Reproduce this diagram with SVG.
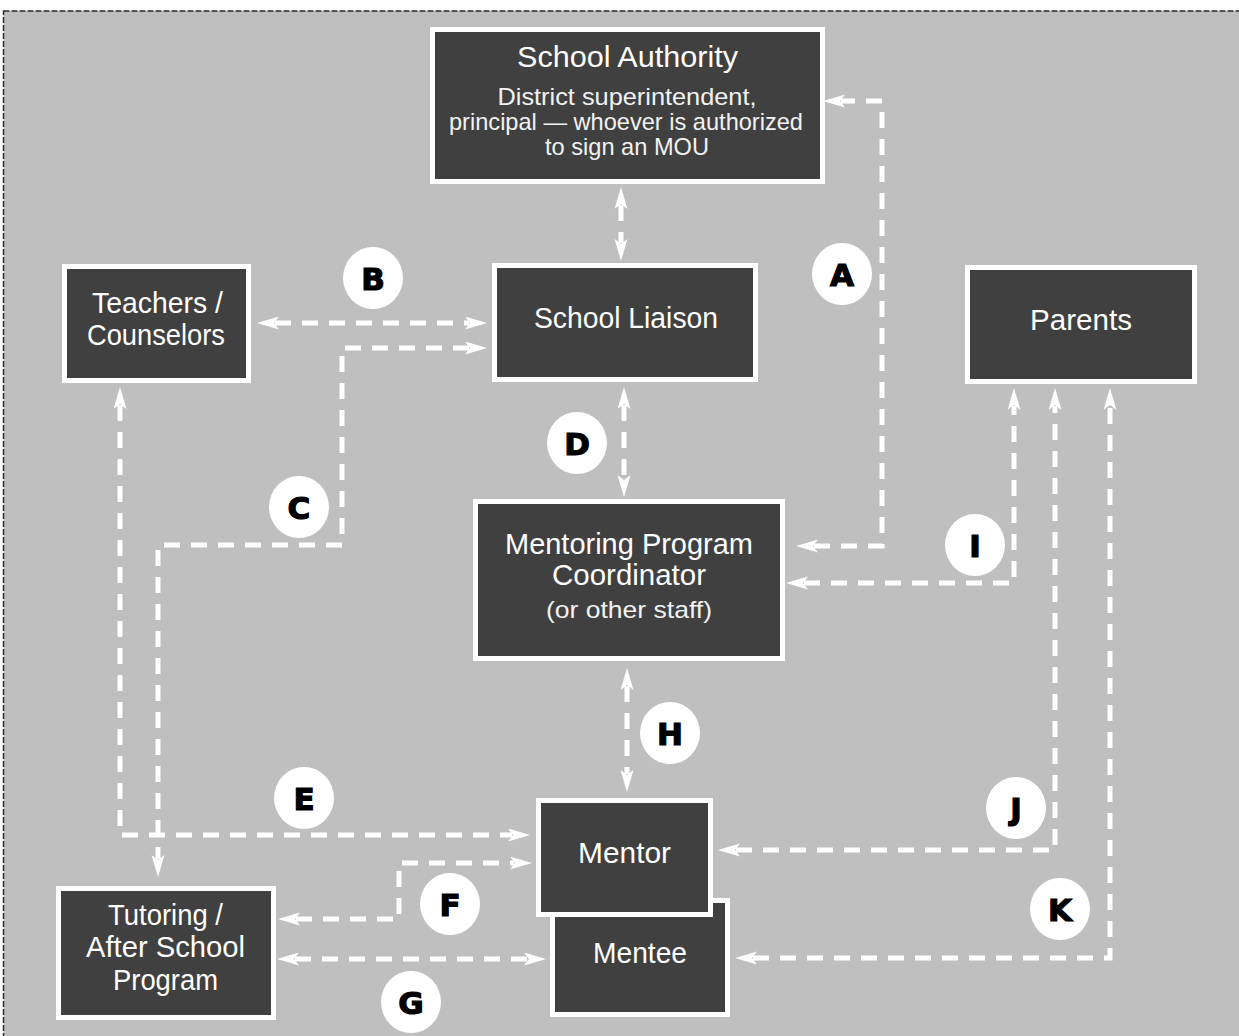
<svg xmlns="http://www.w3.org/2000/svg" width="1239" height="1036" viewBox="0 0 1239 1036">
<defs>
<style>
.bg{fill:#bfbfbf;stroke:#2a2a2a;stroke-width:1.5;stroke-dasharray:6 2}
.box{fill:#404040;stroke:#ffffff;stroke-width:5}
.t{font-family:"Liberation Sans",Arial,sans-serif;font-size:30px;fill:#ffffff;text-anchor:middle}
.s{font-family:"Liberation Sans",Arial,sans-serif;font-size:24px;fill:#f2f2f2;text-anchor:middle}
.c{fill:none;stroke:#ffffff;stroke-width:5;stroke-dasharray:16 11;stroke-linejoin:miter}
.lc{fill:#ffffff}
.lt{font-family:"DejaVu Sans",sans-serif;font-weight:bold;font-size:31px;fill:#000000;stroke:#000000;stroke-width:1.2;text-anchor:middle}
</style>
<marker id="ah" markerUnits="userSpaceOnUse" markerWidth="26" markerHeight="16" viewBox="0 0 26 16" refX="4" refY="6.5" orient="auto-start-reverse">
<path d="M0,0 L22,6.5 L0,13 L5,6.5 Z" fill="#ffffff"/>
</marker>
</defs>
<rect x="0" y="0" width="1239" height="1036" fill="#ffffff"/>
<rect class="bg" x="3.5" y="11" width="1250" height="1040"/>

<g id="connectors">
<path class="c" d="M621 205 V243" marker-start="url(#ah)" marker-end="url(#ah)"/>
<path class="c" d="M814 546 H882 V101 H841" marker-start="url(#ah)" marker-end="url(#ah)"/>
<path class="c" d="M275 323 H469" marker-start="url(#ah)" marker-end="url(#ah)"/>
<path class="c" d="M469 348 H342 V545 H158 V859" marker-start="url(#ah)" marker-end="url(#ah)"/>
<path class="c" d="M624 405 V479" marker-start="url(#ah)" marker-end="url(#ah)"/>
<path class="c" d="M120 405 V835 H512" marker-start="url(#ah)" marker-end="url(#ah)"/>
<path class="c" d="M296 919 H399 V863 H514" marker-start="url(#ah)" marker-end="url(#ah)"/>
<path class="c" d="M295 959 H528" marker-start="url(#ah)" marker-end="url(#ah)"/>
<path class="c" d="M627 686 V774" marker-start="url(#ah)" marker-end="url(#ah)"/>
<path class="c" d="M804 583 H1014 V406" marker-start="url(#ah)" marker-end="url(#ah)"/>
<path class="c" d="M736 850 H1055 V406" marker-start="url(#ah)" marker-end="url(#ah)"/>
<path class="c" d="M753 958 H1110 V406" marker-start="url(#ah)" marker-end="url(#ah)"/>
</g>

<g id="school-authority">
<rect class="box" x="432.5" y="29.5" width="390" height="152"/>
<text class="t" x="627.5" y="67" textLength="221" lengthAdjust="spacingAndGlyphs">School Authority</text>
<text class="s" x="627" y="105" textLength="259" lengthAdjust="spacingAndGlyphs">District superintendent,</text>
<text class="s" x="626" y="130" textLength="354" lengthAdjust="spacingAndGlyphs">principal — whoever is authorized</text>
<text class="s" x="627" y="155" textLength="164" lengthAdjust="spacingAndGlyphs">to sign an MOU</text>
</g>

<g id="teachers-counselors">
<rect class="box" x="64.5" y="266.5" width="184" height="114"/>
<text class="t" x="157.5" y="313" textLength="131" lengthAdjust="spacingAndGlyphs">Teachers /</text>
<text class="t" x="156" y="345" textLength="138" lengthAdjust="spacingAndGlyphs">Counselors</text>
</g>

<g id="school-liaison">
<rect class="box" x="494.5" y="265.5" width="261" height="114"/>
<text class="t" x="626" y="328" textLength="184" lengthAdjust="spacingAndGlyphs">School Liaison</text>
</g>

<g id="parents">
<rect class="box" x="967.5" y="267.5" width="227" height="114"/>
<text class="t" x="1081" y="330" textLength="102" lengthAdjust="spacingAndGlyphs">Parents</text>
</g>

<g id="mentoring-program-coordinator">
<rect class="box" x="475.5" y="501.5" width="307" height="157"/>
<text class="t" x="629" y="554" textLength="248" lengthAdjust="spacingAndGlyphs">Mentoring Program</text>
<text class="t" x="629" y="585" textLength="154" lengthAdjust="spacingAndGlyphs">Coordinator</text>
<text class="s" x="629" y="618" textLength="166" lengthAdjust="spacingAndGlyphs">(or other staff)</text>
</g>

<g id="tutoring">
<rect class="box" x="58.5" y="888.5" width="215" height="129"/>
<text class="t" x="165.5" y="925" textLength="115" lengthAdjust="spacingAndGlyphs">Tutoring /</text>
<text class="t" x="165.5" y="957" textLength="159" lengthAdjust="spacingAndGlyphs">After School</text>
<text class="t" x="165.5" y="990" textLength="105" lengthAdjust="spacingAndGlyphs">Program</text>
</g>

<g id="mentee">
<rect class="box" x="552.5" y="900.5" width="175" height="114"/>
<text class="t" x="640" y="963" textLength="94" lengthAdjust="spacingAndGlyphs">Mentee</text>
</g>

<g id="mentor">
<rect class="box" x="538.5" y="800.5" width="172" height="114"/>
<text class="t" x="624.5" y="863" textLength="93" lengthAdjust="spacingAndGlyphs">Mentor</text>
</g>

<g id="label-A"><ellipse class="lc" cx="842" cy="274" rx="30" ry="31"/><text class="lt" x="842" y="285.5">A</text></g>
<g id="label-B"><ellipse class="lc" cx="373" cy="278" rx="30" ry="31"/><text class="lt" x="373" y="289.5">B</text></g>
<g id="label-C"><ellipse class="lc" cx="299" cy="507" rx="30" ry="31"/><text class="lt" x="299" y="518.5">C</text></g>
<g id="label-D"><ellipse class="lc" cx="577" cy="443" rx="30" ry="31"/><text class="lt" x="577" y="454.5">D</text></g>
<g id="label-E"><ellipse class="lc" cx="304" cy="798" rx="30" ry="31"/><text class="lt" x="304" y="809.5">E</text></g>
<g id="label-F"><ellipse class="lc" cx="450" cy="904" rx="30" ry="31"/><text class="lt" x="450" y="915.5">F</text></g>
<g id="label-G"><ellipse class="lc" cx="411" cy="1002" rx="30" ry="31"/><text class="lt" x="411" y="1013.5">G</text></g>
<g id="label-H"><ellipse class="lc" cx="670" cy="733" rx="30" ry="31"/><text class="lt" x="670" y="744.5">H</text></g>
<g id="label-I"><ellipse class="lc" cx="975" cy="545" rx="30" ry="31"/><text class="lt" x="975" y="556.5">I</text></g>
<g id="label-J"><ellipse class="lc" cx="1016" cy="808" rx="30" ry="31"/><text class="lt" x="1016" y="819.5">J</text></g>
<g id="label-K"><ellipse class="lc" cx="1060" cy="909" rx="30" ry="31"/><text class="lt" x="1060" y="920.5">K</text></g>
</svg>
